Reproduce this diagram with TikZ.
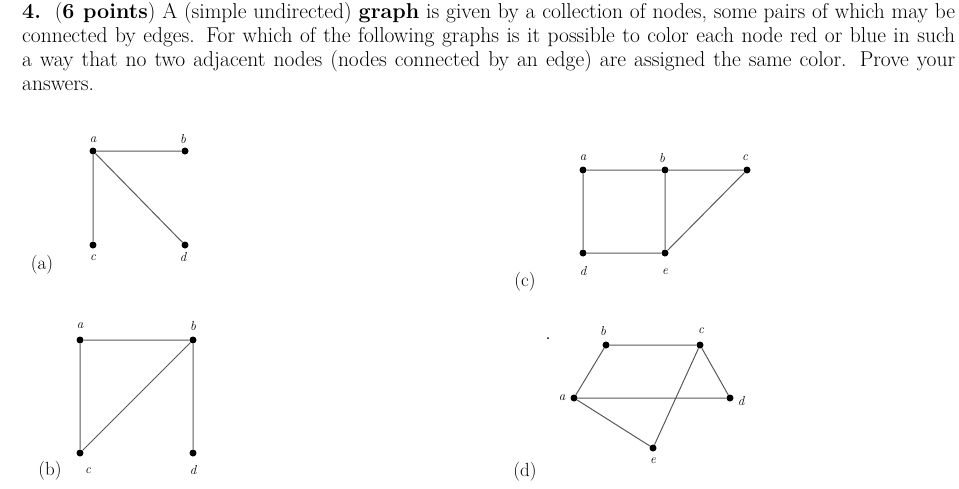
\documentclass[tikz,border=0pt]{standalone}
\begin{document}
\begin{tikzpicture}[x=1pt,y=-1pt,
  vtx/.style={circle,fill=black,inner sep=0pt,minimum size=7pt},
  edge/.style={draw=black!65,line width=1pt},
  lbl/.style={font=\fontsize{13}{13}\selectfont\itshape,inner sep=0pt},
  captxt/.style={font=\fontsize{19}{19}\selectfont,inner sep=0pt}]
\useasboundingbox (0,0) rectangle (959,488);
\node[anchor=north west,inner sep=0pt,text width=933pt,align=justify,font=\fontsize{21.5}{24}\selectfont] (txt) at (22,2)
{\textbf{4.}\ \ (\textbf{6 points}) A (simple undirected) \textbf{graph} is given by a collection of nodes, some pairs of which may be connected by edges. For which of the following graphs is it possible to color each node red or blue in such a way that no two adjacent nodes (nodes connected by an edge) are assigned the same color. Prove your answers.};
% (a)
\node[vtx] (aa) at (93,151) {}; \node[vtx] (ab) at (185,151) {};
\node[vtx] (ac) at (93,245) {}; \node[vtx] (ad) at (185,245) {};
\draw[edge] (aa)--(ab) (aa)--(ac) (aa)--(ad);
\node[lbl] (laa) at (93,140) {a}; \node[lbl] (lab) at (183,139) {b};
\node[lbl] (lac) at (93,258) {c}; \node[lbl] (lad) at (183,257) {d};
\node[captxt] (capa) at (42,265) {(a)};
% (c)
\node[vtx] (ca) at (583,170) {}; \node[vtx] (cb) at (665,170) {}; \node[vtx] (cc) at (747,170) {};
\node[vtx] (cd) at (583,253) {}; \node[vtx] (ce) at (665,253) {};
\draw[edge] (ca)--(cb) (cb)--(cc) (ca)--(cd) (cd)--(ce) (cb)--(ce) (ce)--(cc);
\node[lbl] (lca) at (583,158) {a}; \node[lbl] (lcb) at (662,158) {b}; \node[lbl] (lcc) at (745,158) {c};
\node[lbl] (lcd) at (583,271) {d}; \node[lbl] (lce) at (665,272) {e};
\node[captxt] (capc) at (525,282) {(c)};
% (b)
\node[vtx] (ba) at (80,340) {}; \node[vtx] (bb) at (193,340) {};
\node[vtx] (bc) at (80,453) {}; \node[vtx] (bd) at (193,453) {};
\draw[edge] (ba)--(bb) (bb)--(bc) (bb)--(bd) (ba)--(bc);
\node[lbl] (lba) at (80,326) {a}; \node[lbl] (lbb) at (193,326) {b};
\node[lbl] (lbc) at (88,471) {c}; \node[lbl] (lbd) at (193,470) {d};
\node[captxt] (capb) at (50,471) {(b)};
% (d)
\node[vtx] (da) at (574,398) {}; \node[vtx] (db) at (606,345) {}; \node[vtx] (dc) at (700,345) {};
\node[vtx] (dd) at (730,398) {}; \node[vtx] (de) at (653,448) {};
\draw[edge] (da)--(db) (db)--(dc) (dc)--(dd) (da)--(dd) (da)--(de) (dc)--(de);
\node[lbl] (lda) at (562,398) {a}; \node[lbl] (ldb) at (603,331) {b}; \node[lbl] (ldc) at (701,331) {c};
\node[lbl] (ldd) at (741,401) {d}; \node[lbl] (lde) at (653,461) {e};
\fill (548,338) circle (1pt);
\node[captxt] (capd) at (525,472) {(d)};
\end{tikzpicture}
\end{document}
